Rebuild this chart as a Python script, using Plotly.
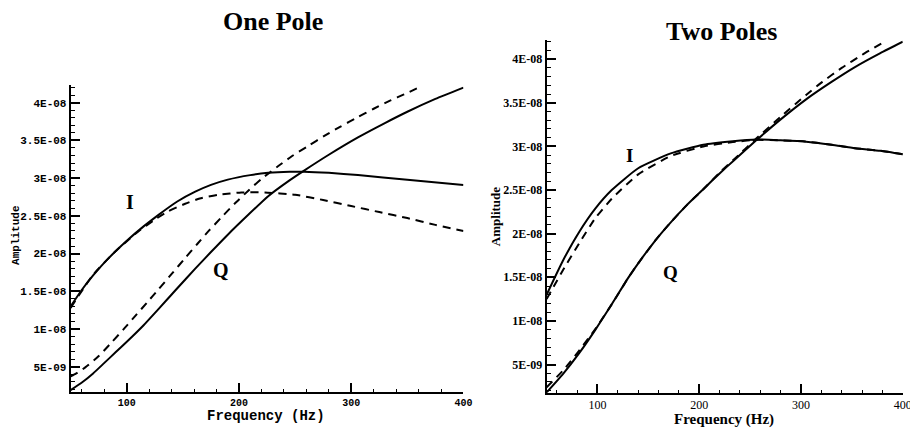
import plotly.graph_objects as go

# ---------------- data (Amplitude vs Frequency) ----------------
# One Pole panel
f_i1_solid = [50, 60, 70, 80, 90, 100, 115, 128, 145, 161, 175, 190, 210, 226, 245, 258, 280, 306, 350, 400]
a_i1_solid = [13.0e-9, 15.2e-9, 17.1e-9, 18.8e-9, 20.3e-9, 21.7e-9, 23.6e-9, 25.1e-9, 26.9e-9, 28.2e-9,
              29.1e-9, 29.8e-9, 30.4e-9, 30.7e-9, 30.85e-9, 30.85e-9, 30.7e-9, 30.4e-9, 29.8e-9, 29.1e-9]
f_i1_dash = [50, 70, 90, 110, 125, 137, 152, 165, 182, 202, 223, 250, 275, 300, 325, 350, 375, 400]
a_i1_dash = [12.8e-9, 17.2e-9, 20.3e-9, 22.9e-9, 24.5e-9, 25.6e-9, 26.6e-9, 27.3e-9, 27.8e-9, 28.1e-9,
             28.1e-9, 27.8e-9, 27.1e-9, 26.3e-9, 25.5e-9, 24.7e-9, 23.8e-9, 23.0e-9]
f_q1_solid = [50, 60, 70, 80, 90, 100, 115, 128, 145, 161, 175, 190, 208, 226, 245, 258, 280, 306, 330, 350, 375, 400]
a_q1_solid = [1.9e-9, 2.9e-9, 4.1e-9, 5.5e-9, 6.9e-9, 8.3e-9, 10.5e-9, 12.6e-9, 15.4e-9, 18.0e-9, 20.2e-9,
              22.5e-9, 25.1e-9, 27.6e-9, 29.7e-9, 31.0e-9, 33.1e-9, 35.4e-9, 37.3e-9, 38.8e-9, 40.5e-9, 42.0e-9]
f_q1_dash = [50, 55, 63, 75, 87, 98, 108, 118, 128, 140, 152, 163, 173, 185, 196, 208, 220, 235, 247,
             262, 276, 290, 306, 320, 335, 347, 360]
a_q1_dash = [3.7e-9, 4.1e-9, 4.9e-9, 6.4e-9, 8.3e-9, 10.1e-9, 11.8e-9, 13.5e-9, 15.2e-9, 17.3e-9, 19.4e-9,
             21.3e-9, 23.0e-9, 24.9e-9, 26.6e-9, 28.3e-9, 29.9e-9, 31.6e-9, 32.9e-9, 34.3e-9, 35.6e-9,
             36.8e-9, 38.1e-9, 39.2e-9, 40.3e-9, 41.1e-9, 42.0e-9]

# Two Poles panel
f_i2_solid = [50, 66, 82, 98, 114, 140, 172, 204, 233, 256, 280, 305, 330, 353, 378, 400]
a_i2_solid = [13.0e-9, 16.9e-9, 20.2e-9, 22.9e-9, 25.0e-9, 27.5e-9, 29.2e-9, 30.2e-9, 30.6e-9,
              30.8e-9, 30.7e-9, 30.55e-9, 30.2e-9, 29.8e-9, 29.5e-9, 29.1e-9]
f_i2_dash = [50, 66, 82, 98, 114, 140, 172, 204, 233, 256, 280, 305, 330, 353, 378, 400]
a_i2_dash = [12.5e-9, 15.8e-9, 18.9e-9, 21.8e-9, 24.0e-9, 26.8e-9, 28.9e-9, 30.0e-9, 30.5e-9, 30.75e-9,
             30.7e-9, 30.55e-9, 30.2e-9, 29.8e-9, 29.5e-9, 29.1e-9]
f_q2_solid = [50, 66, 82, 98, 114, 130, 140, 156, 172, 188, 204, 220, 234, 256, 280, 305, 330, 353, 378, 400]
a_q2_solid = [1.8e-9, 3.9e-9, 6.3e-9, 9.0e-9, 11.9e-9, 14.9e-9, 16.6e-9, 19.1e-9, 21.3e-9, 23.3e-9, 25.1e-9,
              26.9e-9, 28.4e-9, 30.7e-9, 33.1e-9, 35.4e-9, 37.4e-9, 39.1e-9, 40.7e-9, 42.0e-9]
f_q2_dash = [50, 66, 82, 98, 114, 130, 140, 156, 172, 188, 204, 220, 234, 256, 280, 305, 321, 340, 360, 379]
a_q2_dash = [2.4e-9, 4.3e-9, 6.6e-9, 9.1e-9, 11.9e-9, 14.9e-9, 16.6e-9, 19.1e-9, 21.3e-9, 23.3e-9, 25.1e-9,
             27.0e-9, 28.5e-9, 30.9e-9, 33.4e-9, 35.9e-9, 37.4e-9, 39.0e-9, 40.5e-9, 41.8e-9]

# tick values / labels
x_tickvals = [100, 200, 300, 400]
x_ticktext = ["100", "200", "300", "400"]
y1_tickvals = [5e-9, 1e-8, 1.5e-8, 2e-8, 2.5e-8, 3e-8, 3.5e-8, 4e-8]
y1_ticktext = ["5E-09", "1E-08", "1.5E-08", "2E-08", "2.5E-08", "3E-08", "3.5E-08", "4E-08"]
y2_tickvals = [5e-9, 1e-8, 1.5e-8, 2e-8, 2.5e-8, 3e-8, 3.5e-8, 4e-8]
y2_ticktext = ["5E-09", "1E-08", "1.5E-08", "2E-08", "2.5E-08", "3E-08", "3.5E-08", "4E-08"]

# ---------------- figure ----------------
# the page body has an 8px margin, so the figure is laid out in page pixels shifted by OFF
OFF = 8
W, H = 910, 420
SERIF = "Liberation Serif, Times New Roman, serif"
MONO = "Liberation Mono, DejaVu Sans Mono, monospace"
DASH = "8px,6px"


def px(x):
    return (x - OFF) / W


def py(y):
    return 1 - (y - OFF) / H


fig = go.Figure()


def add_line(x, y, dash, xa, ya):
    fig.add_trace(go.Scatter(
        x=x, y=y, mode="lines", xaxis=xa, yaxis=ya, showlegend=False,
        line=dict(color="black", width=2, dash=dash, shape="spline", smoothing=0.5),
        hoverinfo="skip"))


add_line(f_i1_solid, a_i1_solid, "solid", "x", "y")
add_line(f_i1_dash, a_i1_dash, DASH, "x", "y")
add_line(f_q1_solid, a_q1_solid, "solid", "x", "y")
add_line(f_q1_dash, a_q1_dash, DASH, "x", "y")
add_line(f_i2_solid, a_i2_solid, "solid", "x2", "y2")
add_line(f_i2_dash, a_i2_dash, DASH, "x2", "y2")
add_line(f_q2_solid, a_q2_solid, "solid", "x2", "y2")
add_line(f_q2_dash, a_q2_dash, DASH, "x2", "y2")

common_axis = dict(showline=True, linecolor="black", linewidth=2, showgrid=False, zeroline=False,
                   ticks="inside", tickcolor="black", tickwidth=2, ticklen=9, mirror=False)

fig.update_layout(
    width=W, height=H,
    margin=dict(l=0, r=0, t=0, b=0),
    paper_bgcolor="white", plot_bgcolor="white",
    xaxis=dict(common_axis, domain=[px(71.3), px(468)], range=[50, 400], anchor="y",
               tickmode="array", tickvals=x_tickvals, ticktext=x_ticktext,
               tickfont=dict(family=MONO, size=10, color="black", weight="bold"),
               minor=dict(ticks="inside", ticklen=3, tickwidth=1, tickcolor="black", dtick=20, tick0=0)),
    yaxis=dict(common_axis, domain=[py(392), py(85)], range=[1.64e-9, 42.35e-9], anchor="x",
               tickmode="array", tickvals=y1_tickvals, ticktext=y1_ticktext,
               tickfont=dict(family=MONO, size=11, color="black", weight="bold"),
               minor=dict(ticks="inside", ticklen=4, tickwidth=1, tickcolor="black", dtick=1e-9, tick0=0)),
    xaxis2=dict(common_axis, domain=[px(552), min(1.0, px(911.7))], range=[50, 400], anchor="y2",
                tickmode="array", tickvals=x_tickvals, ticktext=x_ticktext,
                tickfont=dict(family=SERIF, size=12, color="black"),
                minor=dict(ticks="inside", ticklen=3, tickwidth=1, tickcolor="black", dtick=20, tick0=0)),
    yaxis2=dict(common_axis, domain=[py(392.7), py(40)], range=[1.77e-9, 42.2e-9], anchor="x2",
                tickmode="array", tickvals=y2_tickvals, ticktext=y2_ticktext,
                tickfont=dict(family=SERIF, size=12, color="black", weight="bold"),
                minor=dict(ticks="inside", ticklen=4, tickwidth=1, tickcolor="black", dtick=1e-9, tick0=0)),
)

annotations = [
    # titles
    dict(text="<b>One Pole</b>", x=px(276), y=py(22), xref="paper", yref="paper",
         showarrow=False, font=dict(family=SERIF, size=26, color="black"), xanchor="center", yanchor="middle"),
    dict(text="<b>Two Poles</b>", x=px(729), y=py(31), xref="paper", yref="paper",
         showarrow=False, font=dict(family=SERIF, size=26, color="black"), xanchor="center", yanchor="middle"),
    # x axis titles
    dict(text="<b>Frequency (Hz)</b>", x=px(269), y=py(416), xref="paper", yref="paper",
         showarrow=False, font=dict(family=MONO, size=14, color="black"), xanchor="center", yanchor="middle"),
    dict(text="<b>Frequency (Hz)</b>", x=px(731), y=py(419), xref="paper", yref="paper",
         showarrow=False, font=dict(family=SERIF, size=15, color="black"), xanchor="center", yanchor="middle"),
    # y axis titles
    dict(text="<b>Amplitude</b>", x=px(16), y=py(235), xref="paper", yref="paper", textangle=-90,
         showarrow=False, font=dict(family=MONO, size=11, color="black"), xanchor="center", yanchor="middle"),
    dict(text="<b>Amplitude</b>", x=px(500), y=py(217), xref="paper", yref="paper", textangle=-90,
         showarrow=False, font=dict(family=SERIF, size=13, color="black"), xanchor="center", yanchor="middle"),
    # curve labels
    dict(text="<b>I</b>", x=103, y=26.9e-9, xref="x", yref="y", showarrow=False,
         font=dict(family=SERIF, size=20, color="black")),
    dict(text="<b>Q</b>", x=184, y=17.8e-9, xref="x", yref="y", showarrow=False,
         font=dict(family=SERIF, size=20, color="black")),
    dict(text="<b>I</b>", x=131.7, y=29.0e-9, xref="x2", yref="y2", showarrow=False,
         font=dict(family=SERIF, size=19, color="black")),
    dict(text="<b>Q</b>", x=172, y=15.6e-9, xref="x2", yref="y2", showarrow=False,
         font=dict(family=SERIF, size=19, color="black")),
]
fig.update_layout(annotations=annotations)

fig.write_html("out.html")
